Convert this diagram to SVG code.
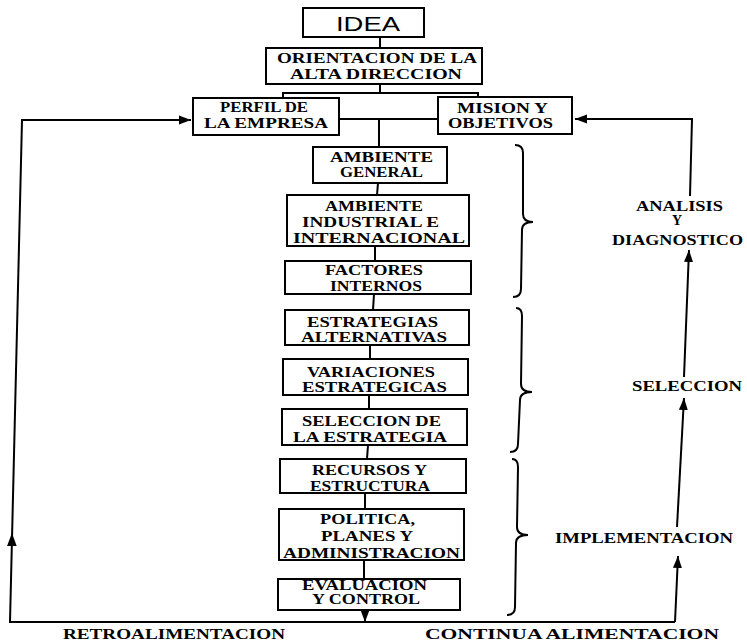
<svg xmlns="http://www.w3.org/2000/svg" width="747" height="641" viewBox="0 0 747 641">
<style>
.box{fill:none;stroke:#000;stroke-width:2}
.ln{fill:none;stroke:#000;stroke-width:2}
.t{font-family:"Liberation Serif",serif;font-weight:bold;font-size:14px;fill:#000}
.idea{font-family:"Liberation Sans",sans-serif;font-size:20px;fill:#000}
</style>
<defs>
<marker id="ah" markerUnits="userSpaceOnUse" markerWidth="13" markerHeight="10" refX="12" refY="5" orient="auto">
<path d="M0,0.5 L12,5 L0,9.5 z" fill="#000"/>
</marker>
</defs>
<rect width="747" height="641" fill="#fff"/>
<g id="connectors">
<line class="ln" x1="380" y1="37" x2="380" y2="48"/>
<polyline class="ln" points="380,84 380,93"/>
<polyline class="ln" points="283,98 283,93 478,93 478,97"/>
<line class="ln" x1="339" y1="119" x2="438" y2="119"/>
<line class="ln" x1="379" y1="119" x2="379" y2="147"/>
<line class="ln" x1="378" y1="183" x2="377" y2="195"/>
<line class="ln" x1="375" y1="246" x2="375" y2="261"/>
<line class="ln" x1="374" y1="294" x2="373" y2="310"/>
<line class="ln" x1="370" y1="345" x2="370" y2="359"/>
<line class="ln" x1="369" y1="395" x2="369" y2="409"/>
<line class="ln" x1="368" y1="445" x2="367" y2="459"/>
<line class="ln" x1="365" y1="493" x2="365" y2="509"/>
<line class="ln" x1="364" y1="560" x2="364" y2="579"/>
<line class="ln" x1="365" y1="610" x2="365" y2="622" marker-end="url(#ah)"/>
<polyline class="ln" points="675,622 10,622 22,120 191,120" marker-end="url(#ah)"/>
<path d="M11.9,533 L7.1,546 L16.7,546 z" fill="#000"/>
<line class="ln" x1="675" y1="622" x2="678" y2="556" marker-end="url(#ah)"/>
<line class="ln" x1="677" y1="527" x2="684" y2="398" marker-end="url(#ah)"/>
<line class="ln" x1="684" y1="377" x2="689" y2="250" marker-end="url(#ah)"/>
<polyline class="ln" points="690,196 692,119 575,119" marker-end="url(#ah)"/>
<path class="ln" d="M515,145 Q523,145 523,153 L523,214 Q523,222 533,222 Q522,222 522,230 L521,289 Q521,297 513,297"/>
<path class="ln" d="M516,308 Q522,308 522,316 L521,384 Q521,392 532,392 Q520,392 520,400 L518,444 Q518,452 510,452"/>
<path class="ln" d="M512,459 Q518,459 518,467 L517,527 Q517,535 528,535 Q516,535 516,543 L515,607 Q515,615 507,615"/>
</g>
<g id="n-idea"><rect class="box" x="303" y="8" width="121" height="29"/><text class="idea" x="336" y="31" textLength="64" lengthAdjust="spacingAndGlyphs">IDEA</text></g>
<g id="n-orientacion"><rect class="box" x="266" y="48" width="216" height="36"/>
<text class="t" x="277" y="63" textLength="200" lengthAdjust="spacingAndGlyphs">ORIENTACION DE LA</text>
<text class="t" x="290" y="79" textLength="172" lengthAdjust="spacingAndGlyphs">ALTA DIRECCION</text></g>
<g id="n-perfil"><rect class="box" x="193" y="98" width="146" height="37"/>
<text class="t" x="220" y="112" textLength="88" lengthAdjust="spacingAndGlyphs">PERFIL DE</text>
<text class="t" x="204" y="128" textLength="124" lengthAdjust="spacingAndGlyphs">LA EMPRESA</text></g>
<g id="n-mision"><rect class="box" x="438" y="97" width="134" height="37"/>
<text class="t" x="457" y="113" textLength="91" lengthAdjust="spacingAndGlyphs">MISION Y</text>
<text class="t" x="448" y="128" textLength="105" lengthAdjust="spacingAndGlyphs">OBJETIVOS</text></g>
<g id="n-ambiente-general"><rect class="box" x="313" y="147" width="134" height="36"/>
<text class="t" x="330" y="162" textLength="103" lengthAdjust="spacingAndGlyphs">AMBIENTE</text>
<text class="t" x="340" y="177" textLength="83" lengthAdjust="spacingAndGlyphs">GENERAL</text></g>
<g id="n-ambiente-industrial"><rect class="box" x="287" y="195" width="182" height="51"/>
<text class="t" x="325" y="211" textLength="98" lengthAdjust="spacingAndGlyphs">AMBIENTE</text>
<text class="t" x="302" y="227" textLength="137" lengthAdjust="spacingAndGlyphs">INDUSTRIAL E</text>
<text class="t" x="293" y="243" textLength="172" lengthAdjust="spacingAndGlyphs">INTERNACIONAL</text></g>
<g id="n-factores"><rect class="box" x="285" y="261" width="186" height="33"/>
<text class="t" x="325" y="275" textLength="98" lengthAdjust="spacingAndGlyphs">FACTORES</text>
<text class="t" x="330" y="291" textLength="92" lengthAdjust="spacingAndGlyphs">INTERNOS</text></g>
<g id="n-estrategias"><rect class="box" x="285" y="310" width="184" height="35"/>
<text class="t" x="307" y="327" textLength="131" lengthAdjust="spacingAndGlyphs">ESTRATEGIAS</text>
<text class="t" x="301" y="342" textLength="146" lengthAdjust="spacingAndGlyphs">ALTERNATIVAS</text></g>
<g id="n-variaciones"><rect class="box" x="283" y="359" width="185" height="36"/>
<text class="t" x="307" y="377" textLength="128" lengthAdjust="spacingAndGlyphs">VARIACIONES</text>
<text class="t" x="302" y="392" textLength="145" lengthAdjust="spacingAndGlyphs">ESTRATEGICAS</text></g>
<g id="n-seleccion"><rect class="box" x="282" y="409" width="185" height="36"/>
<text class="t" x="302" y="426" textLength="139" lengthAdjust="spacingAndGlyphs">SELECCION DE</text>
<text class="t" x="293" y="442" textLength="154" lengthAdjust="spacingAndGlyphs">LA ESTRATEGIA</text></g>
<g id="n-recursos"><rect class="box" x="280" y="459" width="186" height="34"/>
<text class="t" x="312" y="475" textLength="115" lengthAdjust="spacingAndGlyphs">RECURSOS Y</text>
<text class="t" x="310" y="491" textLength="120" lengthAdjust="spacingAndGlyphs">ESTRUCTURA</text></g>
<g id="n-politica"><rect class="box" x="279" y="509" width="185" height="51"/>
<text class="t" x="320" y="524" textLength="95" lengthAdjust="spacingAndGlyphs">POLITICA,</text>
<text class="t" x="321" y="541" textLength="92" lengthAdjust="spacingAndGlyphs">PLANES Y</text>
<text class="t" x="283" y="558" textLength="177" lengthAdjust="spacingAndGlyphs">ADMINISTRACION</text></g>
<g id="n-evaluacion"><rect class="box" x="278" y="579" width="182" height="31"/>
<text class="t" x="302" y="590" textLength="125" lengthAdjust="spacingAndGlyphs">EVALUACION</text>
<text class="t" x="312" y="604" textLength="108" lengthAdjust="spacingAndGlyphs">Y CONTROL</text></g>
<g id="labels">
<text class="t" x="636" y="211" textLength="87" lengthAdjust="spacingAndGlyphs">ANALISIS</text>
<text class="t" x="672" y="225">Y</text>
<text class="t" x="612" y="245" textLength="131" lengthAdjust="spacingAndGlyphs">DIAGNOSTICO</text>
<text class="t" x="632" y="391" textLength="110" lengthAdjust="spacingAndGlyphs">SELECCION</text>
<text class="t" x="555" y="543" textLength="178" lengthAdjust="spacingAndGlyphs">IMPLEMENTACION</text>
<text class="t" x="63" y="639" textLength="222" lengthAdjust="spacingAndGlyphs">RETROALIMENTACION</text>
<text class="t" x="425" y="639" textLength="294" lengthAdjust="spacingAndGlyphs">CONTINUA ALIMENTACION</text>
</g>
</svg>
